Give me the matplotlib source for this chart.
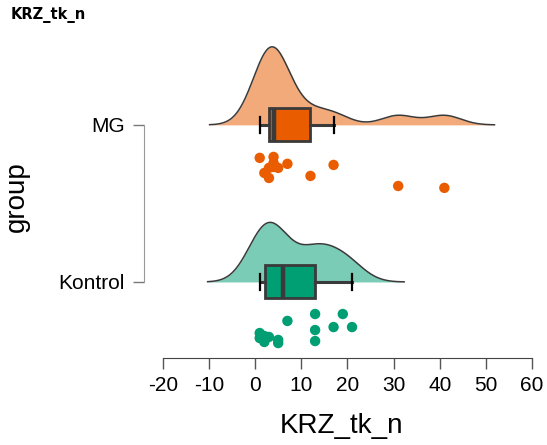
import matplotlib

matplotlib.use("Agg")
import matplotlib.pyplot as plt
import numpy as np

plt.rcParams["font.family"] = ["Liberation Sans", "DejaVu Sans"]

# KRZ_tk_n scores per group
GROUPS = ["Kontrol", "MG"]
KONTROL_VALUES = [1, 1, 2, 2, 3, 5, 5, 7, 13, 13, 13, 17, 19, 21]
MG_VALUES = [1, 2, 3, 3, 4, 4, 4, 5, 7, 12, 17, 31, 41]
X_TICKS = [-20, -10, 0, 10, 20, 30, 40, 50, 60]

# vertical spread of the raw points below each group's baseline
KONTROL_JITTER = [0.325, 0.357, 0.382, 0.344, 0.350, 0.369, 0.389,
                  0.248, 0.204, 0.306, 0.376, 0.287, 0.204, 0.287]
MG_JITTER = [0.210, 0.306, 0.338, 0.274, 0.204, 0.242, 0.268,
             0.274, 0.248, 0.325, 0.255, 0.389, 0.401]

COLORS = {"Kontrol": "#009E73", "MG": "#E95C00"}
EDGE = "#3a3a3a"
DENSITY_HEIGHT = 0.497
BOX_HALF = 0.105


def bw_nrd0(x):
    x = np.asarray(x, dtype=float)
    q1, q3 = np.percentile(x, [25, 75])
    spread = min(np.std(x, ddof=1), (q3 - q1) / 1.34)
    return 0.9 * spread * len(x) ** -0.2


def kde(x, bw, cut=3, n=512):
    x = np.asarray(x, dtype=float)
    grid = np.linspace(x.min() - cut * bw, x.max() + cut * bw, n)
    z = (grid[:, None] - x[None, :]) / bw
    dens = np.exp(-0.5 * z ** 2).sum(axis=1) / (len(x) * bw * np.sqrt(2 * np.pi))
    return grid, dens


data = {"Kontrol": KONTROL_VALUES, "MG": MG_VALUES}
jitter = {"Kontrol": KONTROL_JITTER, "MG": MG_JITTER}

curves = {g: kde(data[g], bw_nrd0(data[g])) for g in GROUPS}
peak = max(d.max() for _, d in curves.values())
scale = DENSITY_HEIGHT / peak

fig = plt.figure(figsize=(5.47, 4.45), dpi=100)
ax = fig.add_axes([0.263, 0.1955, 0.724, 0.7145])

for level, group in enumerate(GROUPS, start=1):
    color = COLORS[group]
    values = np.asarray(data[group], dtype=float)

    # half violin above the baseline
    grid, dens = curves[group]
    ax.fill_between(grid, level, level + dens * scale, color=color, alpha=0.52,
                    linewidth=0, zorder=1)
    ax.plot(grid, level + dens * scale, color=EDGE, linewidth=1.1, zorder=2)

    # box and whiskers
    ax.boxplot(values, positions=[level], vert=False, widths=2 * BOX_HALF,
               patch_artist=True, showfliers=False, manage_ticks=False,
               boxprops=dict(facecolor=color, edgecolor=EDGE, linewidth=2.0),
               medianprops=dict(color=EDGE, linewidth=3.2),
               whiskerprops=dict(color=EDGE, linewidth=2.2),
               capprops=dict(color="black", linewidth=1.6),
               capwidths=0.1, zorder=3)

    # raw points
    ys = level - np.asarray(jitter[group])
    ax.scatter(values, ys, s=56, color=color, edgecolors="none", zorder=4)

ax.set_xlim(-24.1, 61.7)
ax.set_ylim(0.516, 2.54)
ax.set_xticks(X_TICKS)
ax.set_xticklabels([str(t) for t in X_TICKS])
ax.set_yticks([1, 2])
ax.set_yticklabels(GROUPS)

for side in ["top", "right"]:
    ax.spines[side].set_visible(False)
ax.spines["bottom"].set_bounds(-20, 60)
ax.spines["left"].set_bounds(1, 2)
ax.spines["bottom"].set_color("#444444")
ax.spines["left"].set_color("#999999")
ax.tick_params(axis="x", length=8, width=1, color="#555555", labelsize=15, pad=5)
ax.tick_params(axis="y", length=8, width=1, color="#777777", labelsize=15, pad=6)

ax.set_xlabel("KRZ_tk_n", fontsize=20, labelpad=13)
ax.set_ylabel("group", fontsize=20)
ax.yaxis.set_label_coords(-0.288, 0.506)

fig.text(0.019, 0.966, "KRZ_tk_n", fontsize=10.5, fontweight="bold",
         family=["DejaVu Sans"], va="center", ha="left")

fig.savefig("out.png", dpi=100)
